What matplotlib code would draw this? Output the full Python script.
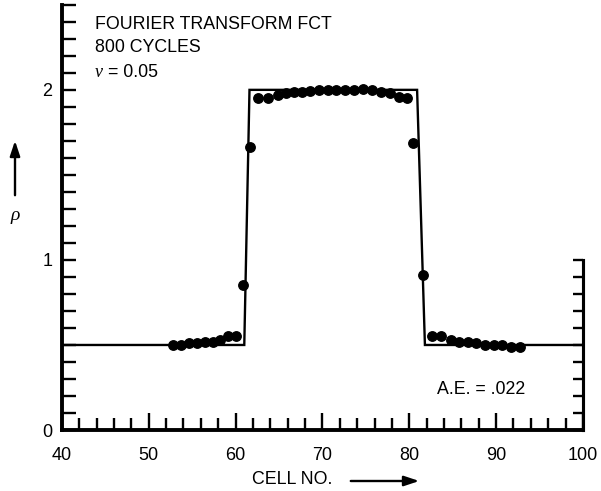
"""Fourier transform FCT square-wave test after 800 cycles."""

import matplotlib

matplotlib.use("Agg")
import matplotlib.pyplot as plt  # noqa: E402
import numpy as np  # noqa: E402
from matplotlib.patches import FancyArrowPatch  # noqa: E402

plt.rcParams["font.family"] = ["Liberation Sans", "DejaVu Sans"]

# exact (analytic) profile
exact_x = [40.0, 61.0, 61.6, 80.9, 81.8, 100.0]
exact_rho = [0.5, 0.5, 2.0, 2.0, 0.5, 0.5]

# computed FCT solution
cell_x = [
    52.8, 53.7, 54.6, 55.6, 56.5, 57.4, 58.2, 59.1, 60.0,
    60.85, 61.66,
    62.6, 63.7, 64.9, 65.8, 66.7, 67.6, 68.6, 69.6, 70.6,
    71.6, 72.6, 73.6, 74.7, 75.7, 76.7, 77.8, 78.8, 79.7,
    80.4, 81.6,
    82.6, 83.7, 84.8, 85.7, 86.8, 87.7, 88.7, 89.7, 90.7, 91.7, 92.8,
]
cell_rho = [
    0.50, 0.50, 0.51, 0.51, 0.52, 0.52, 0.53, 0.55, 0.55,
    0.85, 1.665,
    1.95, 1.95, 1.97, 1.98, 1.985, 1.99, 1.995, 2.0, 2.0,
    2.0, 2.0, 2.0, 2.005, 2.0, 1.99, 1.98, 1.96, 1.95,
    1.69, 0.91,
    0.55, 0.55, 0.53, 0.52, 0.52, 0.51, 0.50, 0.50, 0.50, 0.49, 0.49,
]

x_major = np.arange(40, 101, 10)
x_minor = np.arange(40, 101, 2)
y_ticks = np.round(np.arange(0, 2.51, 0.1), 2)
y_labels = ["0" if v == 0 else "1" if v == 1 else "2" if v == 2 else "" for v in y_ticks]
right_ticks = np.round(np.arange(0, 1.01, 0.1), 2)

fig = plt.figure(figsize=(6.01, 4.91), dpi=100)
ax = fig.add_axes([0.103, 0.1242, 0.867, 0.866])
ax.plot(exact_x, exact_rho, color="black", lw=1.7, solid_joinstyle="miter")
ax.plot(cell_x, cell_rho, "o", color="black", ms=6.8, mec="black")

ax.set_xlim(40, 100)
ax.set_ylim(0, 2.5)
ax.spines["top"].set_visible(False)
ax.spines["left"].set_linewidth(2.8)
ax.spines["bottom"].set_linewidth(2.8)
ax.spines["right"].set_linewidth(2.2)
ax.spines["right"].set_bounds(0, 1.0)

ax.set_xticks(x_major)
ax.set_xticks(x_minor, minor=True)
ax.tick_params(axis="x", which="major", direction="in", length=12.5, width=1.7,
               labelsize=13, pad=12)
ax.tick_params(axis="x", which="minor", direction="in", length=8.5, width=1.7)
ax.set_yticks(y_ticks)
ax.set_yticklabels(y_labels)
ax.tick_params(axis="y", which="major", direction="in", length=10, width=1.7,
               labelsize=13, pad=7)

twin = ax.twinx()
twin.set_ylim(0, 2.5)
for side in ("top", "left", "bottom"):
    twin.spines[side].set_visible(False)
twin.spines["right"].set_linewidth(2.2)
twin.spines["right"].set_bounds(0, 1.0)
twin.set_yticks(right_ticks)
twin.set_yticklabels([])
twin.tick_params(axis="y", direction="in", length=7.5, width=1.7)

ax.text(43.8, 2.36, "FOURIER TRANSFORM FCT", fontsize=12.8, va="baseline")
ax.text(43.8, 2.225, "800 CYCLES", fontsize=12.8, va="baseline")
ax.text(43.8, 2.075, "ν", fontsize=13, va="baseline", family="Liberation Serif",
        style="italic")
ax.text(45.3, 2.075, "= 0.05", fontsize=12.8, va="baseline")
ax.text(88.3, 0.24, "A.E. = .022", fontsize=12.8, ha="center", va="center")

fig.text(15 / 601, 1 - 215 / 491, "ρ", fontsize=14, ha="center", va="center",
         family="Liberation Serif", style="italic")
fig.text(292 / 601, 1 - 480 / 491, "CELL NO.", fontsize=12.8, ha="center", va="center")
arrow = dict(arrowstyle="-|>,head_length=0.9,head_width=0.3", color="black", lw=1.7)
fig.add_artist(FancyArrowPatch(
    (15 / 601, 1 - 198 / 491), (15 / 601, 1 - 138 / 491),
    transform=fig.transFigure, mutation_scale=10, **arrow))
fig.add_artist(FancyArrowPatch(
    (348 / 601, 1 - 481 / 491), (422 / 601, 1 - 481 / 491),
    transform=fig.transFigure, mutation_scale=10, **arrow))

fig.savefig("out.png", dpi=100)
